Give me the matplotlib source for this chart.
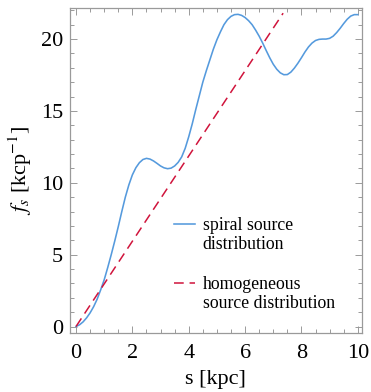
import matplotlib
matplotlib.use("Agg")
import matplotlib.pyplot as plt
import numpy as np
from matplotlib.ticker import MultipleLocator

plt.rcParams['font.family'] = ['Liberation Serif', 'DejaVu Serif']
plt.rcParams['mathtext.fontset'] = 'stix'
plt.rcParams['lines.scale_dashes'] = False

# spiral source distribution, f_s vs s
s_spiral = [0.0, 0.125, 0.25, 0.375, 0.5, 0.625, 0.75, 0.875,
            1.0, 1.125, 1.25, 1.375, 1.5, 1.625, 1.75, 1.875,
            2.0, 2.125, 2.25, 2.375, 2.5, 2.625, 2.75, 2.875,
            3.0, 3.125, 3.25, 3.375, 3.5, 3.625, 3.75, 3.875,
            4.0, 4.125, 4.25, 4.375, 4.5, 4.625, 4.75, 4.875,
            5.0, 5.125, 5.25, 5.375, 5.5, 5.625, 5.75, 5.875,
            6.0, 6.125, 6.25, 6.375, 6.5, 6.625, 6.75, 6.875,
            7.0, 7.125, 7.25, 7.375, 7.5, 7.625, 7.75, 7.875,
            8.0, 8.125, 8.25, 8.375, 8.5, 8.625, 8.75, 8.875,
            9.0, 9.125, 9.25, 9.375, 9.5, 9.625, 9.75, 9.875, 10.0]
f_spiral = [0.0, 0.12, 0.32, 0.6, 0.95, 1.38, 1.9, 2.55,
            3.25, 4.1, 5.0, 5.95, 6.95, 8.0, 9.0, 9.85,
            10.55, 11.05, 11.4, 11.62, 11.7, 11.65, 11.52, 11.35,
            11.17, 11.04, 10.98, 11.02, 11.17, 11.42, 11.8, 12.4,
            13.2, 14.1, 15.1, 16.05, 17.0, 17.8, 18.55, 19.3,
            19.95, 20.5, 21.0, 21.35, 21.58, 21.7, 21.72, 21.65,
            21.5, 21.28, 21.0, 20.62, 20.2, 19.72, 19.2, 18.7,
            18.25, 17.9, 17.65, 17.52, 17.53, 17.7, 17.98, 18.32,
            18.7, 19.1, 19.45, 19.72, 19.9, 19.98, 20.0, 20.0,
            20.05, 20.2, 20.45, 20.75, 21.08, 21.38, 21.6, 21.7, 21.7]

# homogeneous source distribution (straight line)
s_homog = [0.0, 7.35]
f_homog = [0.0, 21.8]

labels = ['spiral source\ndistribution', 'homogeneous\nsource distribution']

blue = '#559ADD'
red = '#D0143C'
line_styles = [dict(color=blue, lw=1.15),
               dict(color=red, lw=1.1, dashes=(7.0, 4.2))]

fig = plt.figure(figsize=(3.71, 3.92), dpi=100)
ax = fig.add_axes([0.1887, 0.1513, 0.7863, 0.8275])

ax.plot(s_spiral, f_spiral, **line_styles[0])
ax.plot(s_homog, f_homog, **line_styles[1])

ax.set_xlim(-0.213, 10.14)
ax.set_ylim(-0.43, 22.14)

ax.xaxis.set_major_locator(MultipleLocator(2))
ax.xaxis.set_minor_locator(MultipleLocator(0.5))
ax.yaxis.set_major_locator(MultipleLocator(5))
ax.yaxis.set_minor_locator(MultipleLocator(1))

frame = '#9a9a9a'
for sp in ax.spines.values():
    sp.set_color(frame)
    sp.set_linewidth(0.9)
ax.tick_params(which='both', direction='in', top=True, right=True,
               color=frame, width=0.7, labelsize=16, labelcolor='black')
ax.tick_params(axis='x', which='both', pad=8)
ax.tick_params(axis='y', which='both', pad=5)
ax.tick_params(which='major', length=5)
ax.tick_params(which='minor', length=3)

ax.set_xlabel('s [kpc]', fontsize=16)
ax.set_ylabel(r'$f_s$ [kcp$^{-1}$]', fontsize=16)
ax.yaxis.set_label_coords(-0.125, 0.5)
ax.xaxis.set_label_coords(0.5, -0.115)

# legend keys sit beside the first line of each two-line label
key_x = (0.357, 0.429)
text_x = 0.455
key_y = [0.335, 0.153]
line_gap = 0.0325
for lab, style, y in zip(labels, line_styles, key_y):
    ax.plot(key_x, (y, y), transform=ax.transAxes, **style)
    ax.text(text_x, y - line_gap, lab, transform=ax.transAxes,
            fontsize=12.8, va='center', ha='left', linespacing=1.15)

fig.savefig('out.png', dpi=100)
